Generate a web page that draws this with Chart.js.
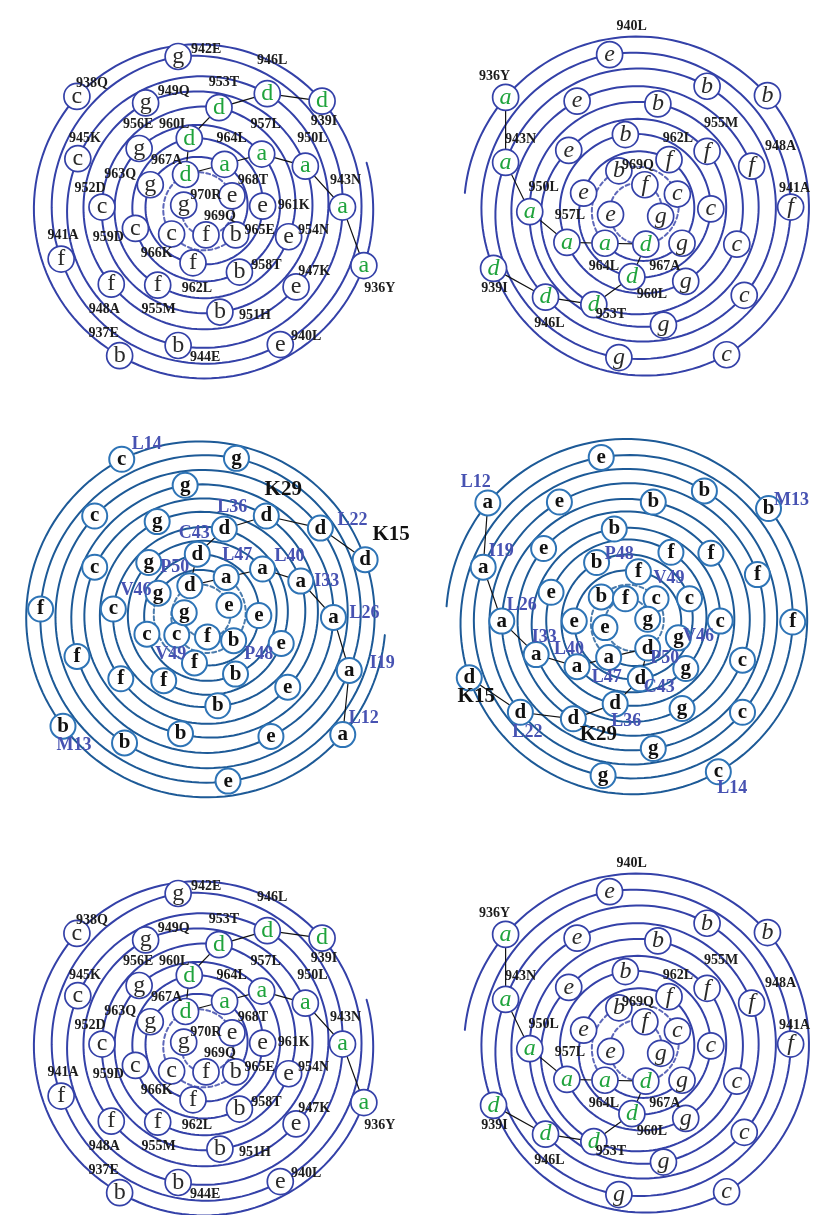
<!DOCTYPE html>
<html>
<head>
<meta charset="utf-8">
<script src="https://cdn.jsdelivr.net/npm/chart.js@4.4.1/dist/chart.umd.min.js"></script>
<style>
  html,body{margin:0;padding:0;background:#fff;}
  #page{position:relative;width:823px;height:1215px;overflow:hidden;background:#fff;}
  canvas{position:absolute;}
</style>
</head>
<body>
<div id="page">
  <canvas id="p1" width="412" height="415" style="left:0;top:0"></canvas>
  <canvas id="p2" width="411" height="415" style="left:412px;top:0"></canvas>
  <canvas id="p4" width="411" height="415" style="left:412px;top:415px"></canvas>
  <canvas id="p3" width="430" height="415" style="left:0;top:415px"></canvas>
  <canvas id="p5" width="412" height="415" style="left:0;top:837px"></canvas>
  <canvas id="p6" width="411" height="415" style="left:412px;top:837px"></canvas>
</div>
<script>
// ---------------- DATA ----------------
const heptad = ["a","b","c","d","e","f","g"];

// Wheel A : residues 936-970
const seqAFirst = 936;
const seqA = ["Y","E","Q","I","L","A","E","N","E","K","L","K","A","Q","L","H","D","T","N","M","E","L","T","D","L","K","L","Q","L","E","K","A","T","Q","R"];
// node positions (wheel units, y up), top-left wheel
const wheelA1X = [174,-89,-135,129,84,-152,-26,151,-26,-134,70,101,-98,-61,111,19,-108,18,93,-48,-68,64,40,-72,-14,65,-10,-56,24,36,-33,-18,32,4,-20];
const wheelA1Y = [-60,-157,122,117,-145,-53,165,3,-146,55,125,-83,-80,115,47,-110,3,110,-29,-81,66,60,-67,-20,77,4,-57,27,49,-27,-26,38,15,-27,5];
// top-right wheel
const wheelA2X = [-141,141,97,-154,-29,166,-19,-141,76,116,-98,-64,124,29,-115,23,108,-46,-73,76,53,-75,-12,80,-5,-57,35,49,-34,-19,44,10,-28,9,26];
const wheelA2Y = [121,123,-156,-63,167,3,-159,51,133,-92,-94,117,47,-124,-2,114,-37,-102,64,63,-77,-35,81,1,-72,18,54,-36,-36,42,17,-37,-5,27,-7];
const chainA = [936,943,950,957,964,967,960,953,946,939];
const labeledA2 = [936,939,940,941,943,946,948,950,953,955,957,960,962,964,967,969];

// Wheel B : residues 12-53
const seqBFirst = 12;
const labelsB = {12:"L12",13:"M13",14:"L14",15:"K15",19:"I19",22:"L22",26:"L26",29:"K29",33:"I33",36:"L36",40:"L40",43:"C43",46:"V46",47:"L47",48:"P48",49:"V49",50:"P50"};
const bigLabelsB = [15,29];
const wheelB3X = [147,-153,-90,171,24,-177,33,154,-87,-119,123,70,-138,-22,137,-27,-119,65,88,-91,-52,102,13,-99,20,81,-45,-61,61,32,-63,-9,57,-12,-51,22,30,-31,-17,25,2,-23];
const wheelB3Y = [-125,-116,171,63,-175,10,172,-56,-134,110,97,-127,-41,143,1,-124,55,110,-74,-65,104,40,-94,10,96,-27,-67,60,53,-60,-17,69,3,-48,27,44,-24,-18,35,14,-20,6];
const wheelB4X = [-154,148,94,-174,-32,174,-30,-159,79,120,-119,-77,136,24,-139,24,120,-62,-94,86,55,-102,-18,96,-17,-86,43,59,-58,-37,63,10,-61,8,51,-24,-32,27,18,-28,-6,18];
const wheelB4Y = [126,120,-163,-62,175,-2,-167,57,139,-99,-99,127,49,-138,-1,127,-43,-106,77,72,-95,-37,98,-1,-90,30,73,-52,-50,62,23,-63,-1,52,-19,-40,25,23,-30,-8,23,1];
const chainB = [12,19,26,33,40,47,50,43,36,29,22,15];

// ---------------- LAYOUT (label placement, px) ----------------
const offA1 = [[16,23],[-16,-22],[15,-13],[2,20],[26,-8],[2,-24],[28,-7],[3,-27],[27,12],[7,-20],[5,-33],[18,-16],[-7,25],[28,-12],[7,-28],[35,3],[-12,-19],[5,-25],[25,-6],[1,24],[-1,-24],[4,-30],[27,-7],[-27,9],[-15,-14],[31,-1],[4,26],[-30,-10],[7,-26],[24,-5],[-15,19],[-19,-14],[21,-15],[14,-19],[22,-10]];
const offA2 = {936:[-11,-21],939:[1,20],940:[22,-28],941:[4,-19],943:[15,-23],946:[4,26],948:[29,-20],950:[14,-24],953:[17,10],955:[14,-28],957:[3,-27],960:[20,18],962:[9,-21],964:[-1,23],967:[19,22],969:[-7,-19]};
const offB3 = {12:[21,-16],13:[11,19],14:[25,-15],15:[26,-25],19:[33,-7],22:[32,-8],26:[31,-4],29:[17,-26],33:[26,0],36:[8,-22],40:[27,-13],43:[-3,-21],46:[-22,-3],47:[11,-22],48:[25,14],49:[-6,19],50:[-15,-18]};
const offB4 = {12:[-12,-21],13:[23,-8],14:[14,17],15:[7,19],19:[18,-16],22:[7,20],26:[20,-16],29:[25,16],33:[8,-17],36:[11,17],40:[-8,-17],43:[19,9],46:[20,-2],47:[-2,20],48:[18,-43],49:[13,-20],50:[17,10]};

// ---------------- STYLES ----------------
const styleA = {ring:"#3441a8", ringW:2, nodeR:13, nodeBorder:"#3441a8", nodeBW:1.7,
  letterColor:"#2a2a2a", hlColor:"#1fa33c", labelColor:"#1c1c1c",
  labelFont:"bold 14px 'Liberation Serif', serif", bigFont:"bold 14px 'Liberation Serif', serif"};
const styleB = {ring:"#1d5a97", ringW:2, nodeR:12.5, nodeBorder:"#2e74b6", nodeBW:2,
  letterColor:"#111", hlColor:"#111", labelColor:"#4752b2",
  labelFont:"bold 18px 'Liberation Serif', serif", bigFont:"bold 21px 'Liberation Serif', serif"};

// ---------------- DRAWING ----------------
function makeWheel(id, cfg) {
  const cv = document.getElementById(id);
  const W = cv.width, H = cv.height;
  const pts = cfg.xs.map((x, i) => ({x: x, y: cfg.ys[i]}));
  const chainPts = cfg.chain.map(n => pts[n - cfg.first]);
  const st = cfg.style;

  const spiralPlugin = {
    id: 'spiral',
    beforeDatasetsDraw(chart) {
      const sx = chart.scales.x, sy = chart.scales.y, ctx = chart.ctx;
      const pol = pts.map(p => ({r: Math.hypot(p.x, p.y), t: Math.atan2(p.y, p.x)}));
      for (let i = 1; i < pol.length; i++) {
        let d = pol[i].t - pol[i-1].t;
        while (d > 0) d -= 2*Math.PI;
        while (d <= -2*Math.PI) d += 2*Math.PI;
        pol[i].t = pol[i-1].t + d;
      }
      const P = (r, t) => [sx.getPixelForValue(r*Math.cos(t)), sy.getPixelForValue(r*Math.sin(t))];
      ctx.save();
      ctx.strokeStyle = st.ring; ctx.lineWidth = st.ringW; ctx.lineCap = 'round';
      // short lead-in arc before the first residue
      ctx.beginPath();
      const ext = 35*Math.PI/180;
      for (let k = 0; k <= 20; k++) {
        const t = pol[0].t + ext*(1 - k/20);
        const q = P(pol[0].r, t);
        if (k === 0) ctx.moveTo(q[0], q[1]); else ctx.lineTo(q[0], q[1]);
      }
      ctx.stroke();
      for (let i = 1; i < pol.length; i++) {
        const a = pol[i-1], b = pol[i];
        const dashed = a.r < cfg.dashR;
        ctx.setLineDash(dashed ? [4,3] : []);
        ctx.globalAlpha = dashed ? 0.8 : 1;
        ctx.beginPath();
        for (let k = 0; k <= 40; k++) {
          const f = k/40;
          const q = P(a.r + (b.r - a.r)*f, a.t + (b.t - a.t)*f);
          if (k === 0) ctx.moveTo(q[0], q[1]); else ctx.lineTo(q[0], q[1]);
        }
        ctx.stroke();
      }
      ctx.restore();
    }
  };

  const textPlugin = {
    id: 'texts',
    afterDatasetsDraw(chart) {
      const sx = chart.scales.x, sy = chart.scales.y, ctx = chart.ctx;
      ctx.save();
      ctx.textAlign = 'center';
      ctx.textBaseline = 'middle';
      pts.forEach((p, i) => {
        const L = heptad[i % 7];
        const px = sx.getPixelForValue(p.x), py = sy.getPixelForValue(p.y);
        ctx.font = cfg.letterFont;
        ctx.fillStyle = (L === 'a' || L === 'd') ? st.hlColor : st.letterColor;
        ctx.fillText(L, px, py + cfg.letterDy);
      });
      cfg.labels.forEach(lb => {
        const p = pts[lb.n - cfg.first];
        const px = sx.getPixelForValue(p.x), py = sy.getPixelForValue(p.y);
        ctx.font = lb.big ? st.bigFont : st.labelFont;
        ctx.fillStyle = lb.big ? "#111" : st.labelColor;
        ctx.fillText(lb.text, px + lb.dx, py + lb.dy);
      });
      ctx.restore();
    }
  };

  new Chart(cv, {
    type: 'scatter',
    data: {datasets: [
      {data: pts, order: 0, pointRadius: st.nodeR, pointHoverRadius: st.nodeR,
       pointBackgroundColor: '#ffffff', pointBorderColor: st.nodeBorder, pointBorderWidth: st.nodeBW, clip: false},
      {type: 'line', data: chainPts, order: 1, borderColor: '#111', borderWidth: 1.2,
       pointRadius: 0, fill: false, tension: 0, clip: false}
    ]},
    options: {
      responsive: false, animation: false, events: [],
      layout: {padding: 0},
      plugins: {legend: {display: false}, tooltip: {enabled: false}},
      scales: {
        x: {type: 'linear', min: -cfg.cx, max: W - cfg.cx, display: false},
        y: {type: 'linear', min: -(H - cfg.cy), max: cfg.cy, display: false}
      }
    },
    plugins: [spiralPlugin, textPlugin]
  });
}

const labelsA1 = seqA.map((aa, i) => ({n: seqAFirst + i, text: (seqAFirst + i) + aa, dx: offA1[i][0], dy: offA1[i][1]}));
const labelsA2 = labeledA2.map(n => ({n: n, text: n + seqA[n - seqAFirst], dx: offA2[n][0], dy: offA2[n][1]}));
const labB = (off) => Object.keys(labelsB).map(k => {
  const n = +k;
  return {n: n, text: labelsB[n], dx: off[n][0], dy: off[n][1], big: bigLabelsB.includes(n)};
});

const cfgA1 = {xs: wheelA1X, ys: wheelA1Y, first: seqAFirst, chain: chainA, style: styleA,
  labels: labelsA1, letterFont: "24px 'Liberation Serif', serif", letterDy: 0, cx: 202, cy: 210, dashR: 50};
const cfgA2 = {xs: wheelA2X, ys: wheelA2Y, first: seqAFirst, chain: chainA, style: styleA,
  labels: labelsA2, letterFont: "italic 24px 'Liberation Serif', serif", letterDy: 0, cx: 226, cy: 210, dashR: 50};

makeWheel('p1', cfgA1);
makeWheel('p2', cfgA2);
makeWheel('p3', {xs: wheelB3X, ys: wheelB3Y, first: seqBFirst, chain: chainB, style: styleB,
  labels: labB(offB3), letterFont: "bold 21px 'Liberation Serif', serif", letterDy: 0, cx: 205, cy: 203, dashR: 50});
makeWheel('p4', {xs: wheelB4X, ys: wheelB4Y, first: seqBFirst, chain: chainB, style: styleB,
  labels: labB(offB4), letterFont: "bold 21px 'Liberation Serif', serif", letterDy: 0, cx: 220, cy: 205, dashR: 48});
makeWheel('p5', cfgA1);
makeWheel('p6', cfgA2);
</script>
</body>
</html>
